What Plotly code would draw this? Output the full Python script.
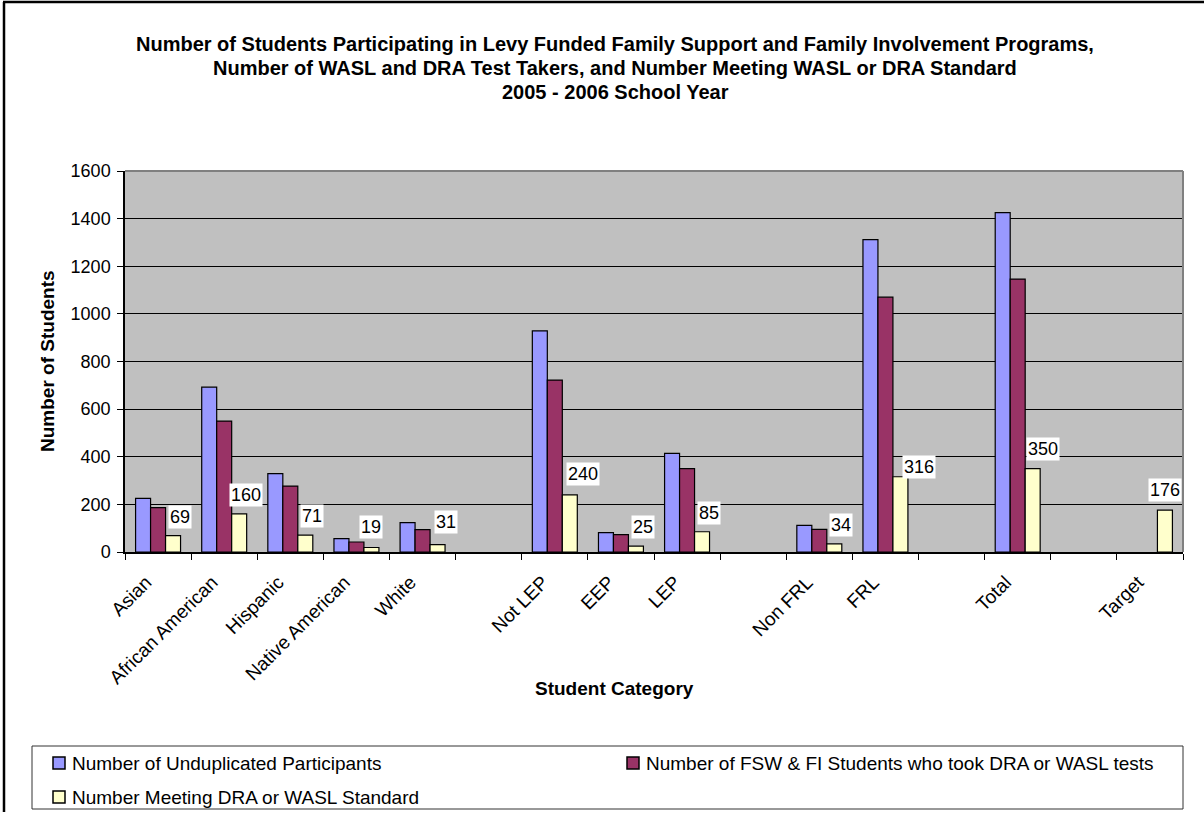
import plotly.graph_objects as go

# Student categories (blank entries are spacer slots between groups)
categories = ["Asian", "African American", "Hispanic", "Native American", "White", "",
              "Not LEP", "EEP", "LEP", "", "Non FRL", "FRL", "", "Total", "", "Target"]
participants = [225, 692, 329, 56, 123, None, 929, 81, 414, None, 112, 1312, None, 1425, None, None]
test_takers = [186, 550, 277, 42, 94, None, 722, 73, 350, None, 95, 1070, None, 1146, None, None]
meeting_standard = [69, 160, 71, 19, 31, None, 240, 25, 85, None, 34, 316, None, 350, None, 176]

series_names = ["Number of Unduplicated Participants",
                "Number of FSW & FI Students who took DRA or WASL tests",
                "Number Meeting DRA or WASL Standard"]
series_colors = ["#9999FF", "#993366", "#FFFFCC"]
y_ticks = [0, 200, 400, 600, 800, 1000, 1200, 1400, 1600]

# per-label nudges in px (dx, dy) for the value boxes
label_nudge = {"Native American": (0, 8), "White": (8, 11), "Not LEP": (13, 9),
               "FRL": (19, -2), "Total": (10, 8), "Target": (0, 8)}
default_nudge = (7, 7)

# legend entry anchors in px: (left of swatch, vertical centre)
legend_slots = [(53, 763), (627, 763), (53, 797)]

FONT = "Arial, Liberation Sans, sans-serif"
W, H = 1204, 821
ML, MR, MT, MB = 125, 21, 171, 269
BARGAP = 0.32

pw = W - ML - MR
ph = H - MT - MB


def px_x(px):
    return (px - ML) / pw


def px_y(py):
    return (H - MB - py) / ph


x_pos = list(range(len(categories)))
fig = go.Figure()
for name, vals, col in zip(series_names, [participants, test_takers, meeting_standard], series_colors):
    fig.add_trace(go.Bar(x=x_pos, y=vals, name=name, showlegend=False,
                         marker=dict(color=col, line=dict(color="black", width=1.2))))

bar_w = (1 - BARGAP) / 3
annotations = []
for i, (cat, v) in enumerate(zip(categories, meeting_standard)):
    if v is None:
        continue
    dx, dy = label_nudge.get(cat, default_nudge)
    annotations.append(dict(x=i + bar_w, y=v, xref="x", yref="y", text=str(v),
                            showarrow=False, yanchor="bottom", xanchor="center",
                            xshift=dx, yshift=dy, bgcolor="white", borderpad=1,
                            font=dict(family=FONT, size=18, color="black")))

# chart title, one line per annotation
title_lines = ["Number of Students Participating in Levy Funded Family Support and Family Involvement Programs,",
               "Number of WASL and DRA Test Takers, and Number Meeting WASL or DRA Standard",
               "2005 - 2006 School Year"]
for k, line in enumerate(title_lines):
    annotations.append(dict(x=px_x(615), y=px_y(44 + 24 * k), xref="paper", yref="paper",
                            xanchor="center", yanchor="middle", text="<b>" + line + "</b>",
                            showarrow=False, font=dict(family=FONT, size=20, color="black")))

# axis titles
annotations.append(dict(x=px_x(614), y=px_y(688), xref="paper", yref="paper",
                        xanchor="center", yanchor="middle",
                        text="<b>Student Category</b>", showarrow=False,
                        font=dict(family=FONT, size=19, color="black")))
annotations.append(dict(x=px_x(47), y=px_y(361), xref="paper", yref="paper",
                        xanchor="center", yanchor="middle",
                        text="<b>Number of Students</b>", showarrow=False, textangle=-90,
                        font=dict(family=FONT, size=19, color="black")))

shapes = [
    # plot-area frame on top and right
    dict(type="line", xref="paper", yref="paper", x0=0, x1=1, y0=1, y1=1,
         line=dict(color="#808080", width=2)),
    dict(type="line", xref="paper", yref="paper", x0=1, x1=1, y0=0, y1=1,
         line=dict(color="#808080", width=2)),
    # chart-area frame
    dict(type="line", xref="paper", yref="paper", x0=px_x(4), x1=px_x(4), y0=px_y(2), y1=px_y(812),
         line=dict(color="black", width=2.5)),
    dict(type="line", xref="paper", yref="paper", x0=px_x(3), x1=px_x(1210), y0=px_y(2), y1=px_y(2),
         line=dict(color="black", width=2.5)),
    # legend box
    dict(type="rect", xref="paper", yref="paper", x0=px_x(32), x1=px_x(1183),
         y0=px_y(809), y1=px_y(746), line=dict(color="#333333", width=1), fillcolor="white"),
]

# legend swatches and labels
for (lx, ly), name, col in zip(legend_slots, series_names, series_colors):
    shapes.append(dict(type="rect", xref="paper", yref="paper",
                       x0=px_x(lx), x1=px_x(lx + 12), y0=px_y(ly + 6), y1=px_y(ly - 6),
                       line=dict(color="black", width=1.5), fillcolor=col))
    annotations.append(dict(x=px_x(lx + 17), y=px_y(ly), xref="paper", yref="paper",
                            xanchor="left", yanchor="middle", text=name, showarrow=False,
                            font=dict(family=FONT, size=19, color="black")))

fig.update_layout(
    width=W, height=H,
    margin=dict(l=ML, r=MR, t=MT, b=MB, pad=0),
    paper_bgcolor="white", plot_bgcolor="#C0C0C0",
    barmode="group", bargap=BARGAP, bargroupgap=0,
    font=dict(family=FONT, size=18, color="black"),
    xaxis=dict(range=[-0.5, len(categories) - 0.5], tickvals=x_pos, ticktext=categories,
               ticks="", tickangle=-45, showgrid=False, zeroline=False,
               showline=True, linecolor="black", linewidth=1.5,
               ticklabelshift=-12, ticklabelstandoff=10,
               tickfont=dict(family=FONT, size=19, color="black"),
               minor=dict(tickvals=[i - 0.5 for i in range(len(categories) + 1)],
                          ticks="outside", ticklen=6, tickcolor="black", tickwidth=1, showgrid=False)),
    yaxis=dict(range=[0, 1600], tickvals=y_ticks, ticks="outside", ticklen=6,
               tickcolor="black", showgrid=True, gridcolor="black", gridwidth=1,
               zeroline=False, showline=True, linecolor="black", linewidth=1.5,
               ticklabelstandoff=3,
               tickfont=dict(family=FONT, size=18, color="black")),
    annotations=annotations, shapes=shapes, showlegend=False,
)

fig.write_html("out.html")
